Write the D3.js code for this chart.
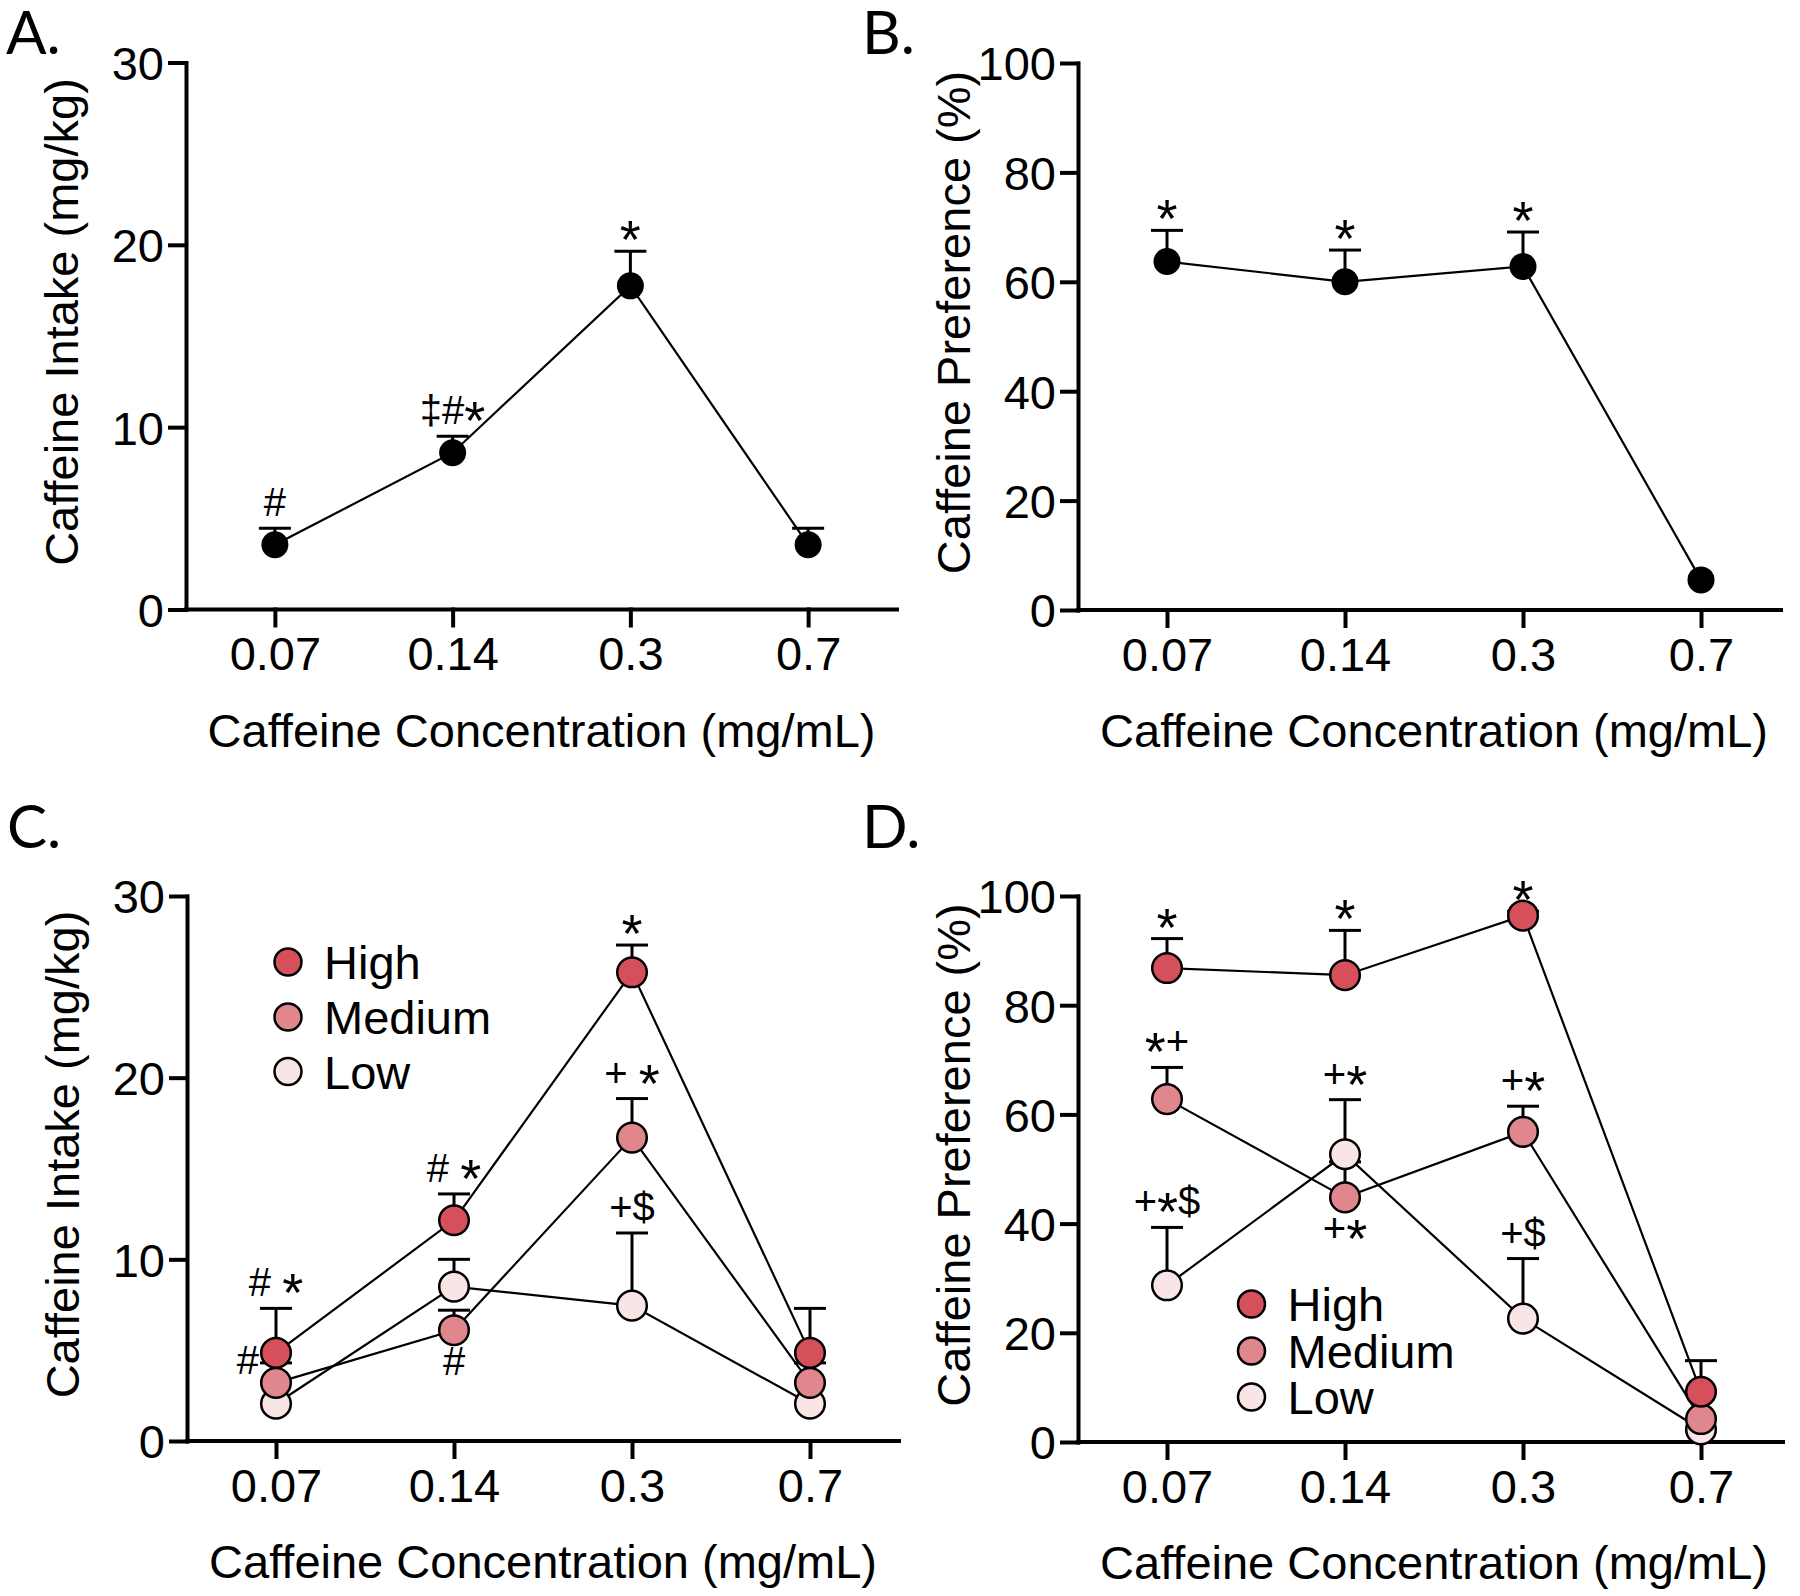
<!DOCTYPE html>
<html><head><meta charset="utf-8">
<script src="https://cdn.jsdelivr.net/npm/d3@7"></script>
<style>
body{margin:0;background:#fff}
svg{display:block}
text{font-family:"Liberation Sans",Arial,Helvetica,sans-serif;fill:#000;white-space:pre}
</style>
</head><body>
<svg id="chart" width="1800" height="1596"></svg>
<script>
// ---------------- data ----------------
const categories = ["0.07", "0.14", "0.3", "0.7"];
const xAxisTitle = "Caffeine Concentration (mg/mL)";
const intakeTitle = "Caffeine Intake (mg/kg)";
const prefTitle = "Caffeine Preference (%)";
const intakeTicks = [0, 10, 20, 30];
const prefTicks = [0, 20, 40, 60, 80, 100];

// Panel A: caffeine intake, all animals
const intakeAllMean = [3.55, 8.6, 17.75, 3.55];
const intakeAllSem  = [0.9, 0.9, 1.9, 0.9];
// Panel B: caffeine preference, all animals
const prefAllMean = [63.7, 60.0, 62.8, 5.5];
const prefAllSem  = [5.7, 5.8, 6.3, 0];
// Panel C: caffeine intake by group
const intakeHighMean   = [4.85, 12.15, 25.8, 4.85];
const intakeHighSem    = [2.45, 1.45, 1.5, 2.45];
const intakeMediumMean = [3.2, 6.1, 16.7, 3.2];
const intakeMediumSem  = [1.1, 1.1, 2.15, 1.1];
const intakeLowMean    = [2.05, 8.5, 7.45, 2.05];
const intakeLowSem     = [0, 1.5, 4.0, 0];
// Panel D: caffeine preference by group
const prefHighMean   = [86.8, 85.5, 96.4, 9.2];
const prefHighSem    = [5.4, 8.2, 0.8, 5.7];
const prefMediumMean = [62.8, 44.8, 56.8, 4.2];
const prefMediumSem  = [5.8, 6.5, 4.7, 0];
const prefLowMean    = [28.7, 52.7, 22.6, 2.3];
const prefLowSem     = [10.6, 10.0, 11.0, 0];

const groupNames  = ["High", "Medium", "Low"];
const groupColors = ["#d5505a", "#df878c", "#f9e4e6"];

// significance marks: panel, series, category, text, placement
const annotations = [
  {panel: "A", group: "All", cat: "0.07", text: "#", place: "above"},
  {panel: "A", group: "All", cat: "0.14", text: "‡#*", place: "above"},
  {panel: "A", group: "All", cat: "0.3", text: "*", place: "above"},
  {panel: "B", group: "All", cat: "0.07", text: "*", place: "above"},
  {panel: "B", group: "All", cat: "0.14", text: "*", place: "above"},
  {panel: "B", group: "All", cat: "0.3", text: "*", place: "above"},
  {panel: "C", group: "High", cat: "0.07", text: "# *", place: "above"},
  {panel: "C", group: "Medium", cat: "0.07", text: "#", place: "left"},
  {panel: "C", group: "High", cat: "0.14", text: "# *", place: "above"},
  {panel: "C", group: "Medium", cat: "0.14", text: "#", place: "below"},
  {panel: "C", group: "High", cat: "0.3", text: "*", place: "above"},
  {panel: "C", group: "Medium", cat: "0.3", text: "+ *", place: "above"},
  {panel: "C", group: "Low", cat: "0.3", text: "+$", place: "above"},
  {panel: "D", group: "High", cat: "0.07", text: "*", place: "above"},
  {panel: "D", group: "High", cat: "0.14", text: "*", place: "above"},
  {panel: "D", group: "High", cat: "0.3", text: "*", place: "above"},
  {panel: "D", group: "Medium", cat: "0.07", text: "*+", place: "above"},
  {panel: "D", group: "Low", cat: "0.07", text: "+*$", place: "above"},
  {panel: "D", group: "Low", cat: "0.14", text: "+*", place: "above"},
  {panel: "D", group: "Medium", cat: "0.14", text: "+*", place: "below"},
  {panel: "D", group: "Medium", cat: "0.3", text: "+*", place: "above"},
  {panel: "D", group: "Low", cat: "0.3", text: "+$", place: "above"}
];

// ---------------- layout ----------------
const panels = [
  {key: "A", label: "A.", lx: 6, ly: 54, axisX: 186, xEnd: 897, lineEnd: 897, yTop: 62.5, yBot: 609.5,
   yMax: 30, ticks: intakeTicks, title: intakeTitle, r: 13.5, legend: null,
   series: [{name: "All", mean: intakeAllMean, sem: intakeAllSem, color: "#000"}]},
  {key: "B", label: "B.", lx: 862, ly: 54, axisX: 1078, xEnd: 1790, lineEnd: 1781, yTop: 63, yBot: 610,
   yMax: 100, ticks: prefTicks, title: prefTitle, r: 13.5, legend: null,
   series: [{name: "All", mean: prefAllMean, sem: prefAllSem, color: "#000"}]},
  {key: "C", label: "C.", lx: 7, ly: 848, axisX: 187, xEnd: 899, lineEnd: 899, yTop: 896, yBot: 1441,
   yMax: 30, ticks: intakeTicks, title: intakeTitle, r: 14.8,
   legend: {x: 288, ys: [962, 1017, 1071.5]},
   series: [
     {name: "Low", mean: intakeLowMean, sem: intakeLowSem, color: groupColors[2]},
     {name: "Medium", mean: intakeMediumMean, sem: intakeMediumSem, color: groupColors[1]},
     {name: "High", mean: intakeHighMean, sem: intakeHighSem, color: groupColors[0]}]},
  {key: "D", label: "D.", lx: 862, ly: 848, axisX: 1078, xEnd: 1790, lineEnd: 1783, yTop: 896, yBot: 1442,
   yMax: 100, ticks: prefTicks, title: prefTitle, r: 14.8,
   legend: {x: 1251.5, ys: [1304, 1351, 1397]},
   series: [
     {name: "Low", mean: prefLowMean, sem: prefLowSem, color: groupColors[2]},
     {name: "Medium", mean: prefMediumMean, sem: prefMediumSem, color: groupColors[1]},
     {name: "High", mean: prefHighMean, sem: prefHighSem, color: groupColors[0]}]}
];

const svg = d3.select("#chart");
svg.append("rect").attr("width", 1800).attr("height", 1596).attr("fill", "#fff");

const FS = 47;
const STAR_SHIFT = 15;

panels.forEach(p => {
  const g = svg.append("g").attr("class", "panel-" + p.key);
  const x = d3.scalePoint().domain(categories).range([p.axisX, p.xEnd]).padding(0.5);
  const y = d3.scaleLinear().domain([0, p.yMax]).range([p.yBot, p.yTop]);

  // panel label
  g.append("text").attr("x", p.lx).attr("y", p.ly)
    .style("font-family", "Lato, 'Open Sans', sans-serif").style("font-size", "60px")
    .text(p.label);

  // y axis
  const ya = g.append("g").attr("transform", `translate(${p.axisX},0)`)
    .call(d3.axisLeft(y).tickValues(p.ticks).tickSize(16).tickSizeOuter(0).tickPadding(6).tickFormat(d3.format("d")));
  ya.selectAll("path,line").attr("stroke", "#000").attr("stroke-width", 4).attr("stroke-linecap", "square");
  ya.selectAll("text").style("font-size", FS + "px").style("font-family", "'Liberation Sans', Arial, sans-serif")
    .attr("dy", "0.36em").attr("fill", "#000");

  // x axis
  const xa = g.append("g").attr("transform", `translate(0,${p.yBot})`)
    .call(d3.axisBottom(x).tickSize(16).tickSizeOuter(0).tickPadding(11.5));
  xa.select(".domain").attr("d", `M${p.axisX},0H${p.lineEnd}`);
  xa.selectAll("path,line").attr("stroke", "#000").attr("stroke-width", 4).attr("stroke-linecap", "square");
  xa.selectAll("text").style("font-size", FS + "px").style("font-family", "'Liberation Sans', Arial, sans-serif")
    .attr("fill", "#000");

  // axis titles
  g.append("text")
    .attr("transform", `translate(${p.axisX - 108},${(p.yTop + p.yBot) / 2 - 14}) rotate(-90)`)
    .attr("text-anchor", "middle").style("font-size", FS + "px").text(p.title);
  g.append("text")
    .attr("x", (p.axisX + p.xEnd) / 2).attr("y", p.yBot + 137)
    .attr("text-anchor", "middle").style("font-size", FS + "px").text(xAxisTitle);

  // connecting lines
  const line = d3.line().x((d, i) => x(categories[i])).y(d => y(d));
  p.series.forEach(s => {
    g.append("path").datum(s.mean).attr("d", line)
      .attr("fill", "none").attr("stroke", "#000").attr("stroke-width", 2.2);
  });

  // error bars (upper SEM)
  p.series.forEach(s => {
    const eb = g.append("g");
    s.mean.forEach((m, i) => {
      if (!(s.sem[i] > 0)) return;
      const cx = x(categories[i]);
      eb.append("line").attr("x1", cx).attr("x2", cx).attr("y1", y(m)).attr("y2", y(m + s.sem[i]))
        .attr("stroke", "#000").attr("stroke-width", 3);
      eb.append("line").attr("x1", cx - 16).attr("x2", cx + 16)
        .attr("y1", y(m + s.sem[i])).attr("y2", y(m + s.sem[i]))
        .attr("stroke", "#000").attr("stroke-width", 3);
    });
  });

  // markers
  p.series.forEach(s => {
    g.append("g").selectAll("circle").data(s.mean).join("circle")
      .attr("cx", (d, i) => x(categories[i])).attr("cy", d => y(d)).attr("r", p.r)
      .attr("fill", s.color).attr("stroke", "#000").attr("stroke-width", s.name === "All" ? 0 : 2.5);
  });

  // annotations
  const smap = {};
  p.series.forEach(s => smap[s.name] = s);
  annotations.filter(a => a.panel === p.key).forEach(a => {
    const s = smap[a.group];
    const i = categories.indexOf(a.cat);
    const cx = x(a.cat), m = s.mean[i], e = s.sem[i];
    let tx = cx, ty, anchor = "middle";
    if (a.place === "above") { ty = y(m + e) - 12; }
    else if (a.place === "below") { ty = y(m) + 45; }
    else { ty = y(m + e) + 11; tx = cx - 17; anchor = "end"; }
    const only = a.text === "*";
    const t = g.append("text").attr("x", tx).attr("y", ty).attr("text-anchor", anchor)
      .style("font-size", "40px");
    let shifted = false;
    for (const ch of a.text) {
      const ts = t.append("tspan").text(ch);
      if (ch === "*") {
        ts.style("font-size", "54px");
        if (!shifted) { ts.attr("dy", only ? 19 : STAR_SHIFT); shifted = true; }
      } else if (shifted) {
        ts.attr("dy", -STAR_SHIFT); shifted = false;
      }
    }
  });

  // legend
  if (p.legend) {
    groupNames.forEach((name, k) => {
      const ly = p.legend.ys[k];
      g.append("circle").attr("cx", p.legend.x).attr("cy", ly).attr("r", 13.5)
        .attr("fill", groupColors[k]).attr("stroke", "#000").attr("stroke-width", 2.5);
      g.append("text").attr("x", p.legend.x + 36).attr("y", ly + 17)
        .style("font-size", FS + "px").text(name);
    });
  }
});
</script>
</body></html>
